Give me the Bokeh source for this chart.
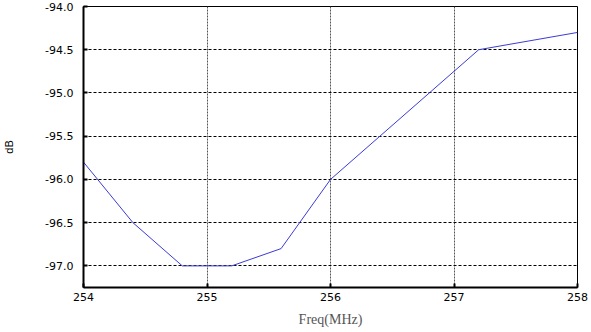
from bokeh.plotting import figure
from bokeh.models import Range1d, FixedTicker, CustomJSTickFormatter
from bokeh.embed import file_html
from bokeh.resources import INLINE

freq_mhz = [254.0, 254.4, 254.8, 255.2, 255.6, 256.0, 256.4, 256.8, 257.2, 257.6, 258.0]
level_db = [-95.8, -96.5, -97.0, -97.0, -96.8, -96.0, -95.5, -95.0, -94.5, -94.4, -94.3]
x_ticks = [254, 255, 256, 257, 258]
y_ticks = [-97.0, -96.5, -96.0, -95.5, -95.0, -94.5, -94.0]

p = figure(width=591, height=332, output_backend="svg", toolbar_location=None,
           x_range=Range1d(254, 258), y_range=Range1d(-97.25, -94.0),
           min_border_left=83, min_border_right=14, min_border_top=6, min_border_bottom=45)

p.line(freq_mhz, level_db, line_color="#3b3bd6", line_width=1)

p.outline_line_color = "black"
p.outline_line_width = 1
p.background_fill_color = "white"
p.border_fill_color = "white"

p.xaxis.ticker = FixedTicker(ticks=x_ticks)
p.yaxis.ticker = FixedTicker(ticks=y_ticks)
p.yaxis.formatter = CustomJSTickFormatter(code="return tick.toFixed(1);")

for ax in (p.xaxis, p.yaxis):
    ax.axis_line_color = "black"
    ax.axis_line_width = 2
    ax.major_tick_in = 4
    ax.major_tick_out = 0
    ax.major_tick_line_color = "black"
    ax.major_tick_line_width = 2
    ax.minor_tick_line_color = None
    ax.major_label_text_font = "DejaVu Sans"
    ax.major_label_text_font_size = "11px"
    ax.major_label_text_color = "black"

p.xaxis.major_label_standoff = 5
p.yaxis.major_label_standoff = 10
p.xaxis.axis_label = "Freq(MHz)"
p.xaxis.axis_label_text_font = "Liberation Serif"
p.xaxis.axis_label_text_font_style = "normal"
p.xaxis.axis_label_text_font_size = "14px"
p.xaxis.axis_label_text_color = "#555555"
p.xaxis.axis_label_standoff = 8

p.yaxis.axis_label = "dB"
p.yaxis.axis_label_text_font = "Liberation Sans"
p.yaxis.axis_label_text_font_style = "normal"
p.yaxis.axis_label_text_font_size = "11px"
p.yaxis.axis_label_text_color = "black"
p.yaxis.axis_label_standoff = 27

p.ygrid.grid_line_color = "black"
p.ygrid.grid_line_dash = "3 2"
p.ygrid.grid_line_width = 1
p.xgrid.grid_line_color = "#555555"
p.xgrid.grid_line_dash = "2 1"
p.xgrid.grid_line_width = 1

open("out.html", "w").write(file_html(p, INLINE))
